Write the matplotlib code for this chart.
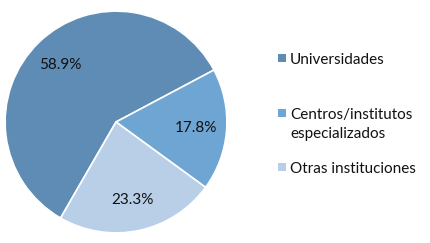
import matplotlib
matplotlib.use("Agg")
import matplotlib.pyplot as plt
from matplotlib.patches import Rectangle

plt.rcParams['font.family'] = ['Lato', 'DejaVu Sans']

labels = ["Universidades", "Centros/institutos\nespecializados", "Otras instituciones"]
values = [58.9, 17.8, 23.3]
colors = ["#5f8cb4", "#6fa5d3", "#b9cfe8"]

fig = plt.figure(figsize=(4.31, 2.43), dpi=100)
ax = fig.add_axes([4 / 431, 9 / 243, 224 / 431, 224 / 243])

wedges, texts, autotexts = ax.pie(values, colors=colors, startangle=240, counterclock=False,
                                  autopct="%.1f%%", pctdistance=0.72,
                                  wedgeprops=dict(edgecolor="white", linewidth=1.2),
                                  textprops=dict(fontsize=11, color="#111111"))
ax.set_xlim(-1.01, 1.01)
ax.set_ylim(-1.01, 1.01)

# leyenda a mano (posiciones en pixeles)
ys = [59, 114, 168]
for lab, c, y in zip(labels, colors, ys):
    fig.patches.append(Rectangle((278 / 431, 1 - (y + 3) / 243), 8 / 431, 8 / 243,
                                 transform=fig.transFigure, facecolor=c, edgecolor="none"))
    fig.text(290 / 431, 1 - (y - 6) / 243, lab, fontsize=11, color="#111111",
             va="top", ha="left", linespacing=1.45)

fig.savefig("out.png", dpi=100)
